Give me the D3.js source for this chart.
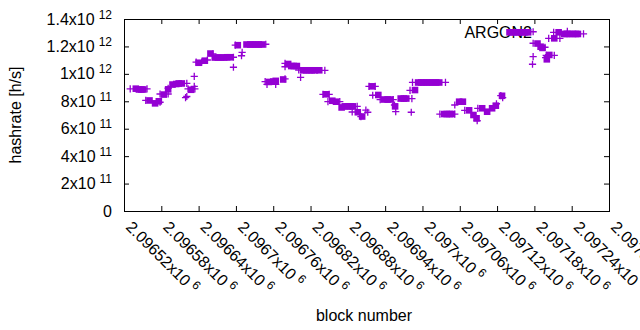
<!DOCTYPE html>
<html>
<head>
<meta charset="utf-8">
<script src="https://cdn.jsdelivr.net/npm/d3@7/dist/d3.min.js"></script>
<style>
body { margin: 0; background: #fff; }
text { font-family: "Liberation Sans", Arial, sans-serif; fill: #000; }
</style>
</head>
<body>
<svg id="chart" width="640" height="330"></svg>
<script>
// filled squares: block number and hashrate (in units of 1e11 h/s)
var squareBlocks = [2096539,2096544,2096548,2096551,2096561,2096570,2096576,2096584,2096591,2096598,
    2096604,2096608,2096613,2096628,2096640,2096650,2096659,2096666,2096671,2096676,
    2096681,2096686,2096690,2096703,2096717,2096723,2096727,2096732,2096737,2096742,
    2096753,2096760,2096764,2096776,2096784,2096789,2096793,2096798,2096808,2096813,
    2096818,2096822,2096827,2096834,2096845,2096855,2096861,2096870,2096875,2096880,
    2096885,2096888,2096896,2096903,2096919,2096929,2096938,2096944,2096948,2096956,
    2096965,2096970,2096974,2096988,2096993,2096998,2097002,2097007,2097012,2097017,
    2097022,2097027,2097035,2097039,2097044,2097047,2097059,2097065,2097075,2097082,
    2097087,2097096,2097104,2097112,2097118,2097128,2097140,2097146,2097150,2097155,
    2097160,2097165,2097170,2097185,2097190,2097193,2097200,2097204,2097212,2097219,
    2097228,2097232,2097237,2097242,2097247,2097250];
var squareRates = [8.92,8.86,8.86,8.86,8.06,7.85,8.00,8.49,8.87,9.22,
    9.26,9.30,9.30,8.84,10.81,10.96,11.48,11.19,11.19,11.19,
    11.19,11.21,11.21,12.09,12.14,12.14,12.14,12.14,12.14,12.14,
    9.41,9.44,9.49,9.59,10.72,10.57,10.57,10.57,10.26,10.26,
    10.26,10.26,10.26,10.26,8.51,8.04,7.97,7.55,7.63,7.63,
    7.63,7.63,7.20,6.89,9.09,8.46,8.13,8.13,8.13,7.63,
    8.20,8.20,8.20,8.82,9.37,9.37,9.37,9.37,9.37,9.37,
    9.37,9.37,7.07,7.07,7.07,7.07,7.97,7.97,7.34,7.00,
    6.76,7.49,7.24,7.49,7.68,8.40,13.03,13.03,13.03,13.03,
    13.03,13.03,13.03,12.21,11.98,11.89,11.06,11.38,12.59,13.03,
    12.91,12.91,12.91,12.91,12.91,12.91];

// plus marks: block number and hashrate (in units of 1e11 h/s)
var plusBlocks = [2096530,2096557,2096555,2096578,2096578,2096591,2096591,2096619,2096621,2096623,
    2096634,2096633,2096633,2096621,2096636,2096645,2096654,2096663,2096696,2096696,
    2096710,2096709,2096699,2096748,2096747,2096750,2096764,2096779,2096779,2096779,
    2096804,2096801,2096843,2096840,2096850,2096848,2096867,2096895,2096887,2096901,
    2096909,2096912,2096914,2096924,2096920,2096932,2096953,2096955,2096957,2096983,
    2096982,2096984,2096980,2097037,2097028,2097052,2097052,2097068,2097088,2097089,
    2097119,2097126,2097129,2097178,2097178,2097197,2097178,2097177,2097199,2097212,
    2097198,2097203,2097221,2097211,2097233,2097259];
var plusRates = [8.90,8.90,8.07,7.93,8.53,8.53,8.95,8.26,8.35,8.90,
    8.90,9.09,9.82,9.30,10.86,10.86,11.01,11.45,11.21,10.48,
    11.57,11.32,12.10,12.16,9.43,9.24,9.24,9.63,10.77,10.52,
    9.75,10.28,10.26,8.51,8.51,7.97,7.97,7.63,7.22,6.88,
    7.36,7.20,9.09,9.09,8.44,8.12,8.12,7.73,7.24,8.19,
    7.20,9.38,8.80,9.38,7.07,7.07,7.73,7.34,6.58,7.49,
    7.82,8.41,8.26,13.07,12.23,11.94,11.25,10.70,11.35,11.35,
    11.18,12.59,12.59,13.03,13.10,12.92];

var xTicks = [2096520,2096580,2096640,2096700,2096760,2096820,2096880,
    2096940,2097000,2097060,2097120,2097180,2097240,2097300];
var yTicks = [0,2e11,4e11,6e11,8e11,1e12,1.2e12,1.4e12];
var yTickMant = ["0","2","4","6","8","1","1.2","1.4"];
var yTickExp = ["","11","11","11","11","12","12","12"];

var color = "#9400d3";
var margin = {top: 19, right: 31, bottom: 119, left: 124};
var width = 640 - margin.left - margin.right;
var height = 330 - margin.top - margin.bottom;

var svg = d3.select("#chart");
var g = svg.append("g")
    .attr("transform", "translate(" + margin.left + "," + margin.top + ")");

var x = d3.scaleLinear().domain([2096520, 2097300]).range([0, width]);
var y = d3.scaleLinear().domain([0, 1.4e12]).range([height, 0]);

// key text sits under the points
g.append("text")
    .attr("x", 408).attr("y", 18.5)
    .attr("text-anchor", "end")
    .style("font-size", "16px")
    .text("ARGON2");

// ticks on all four sides, pointing inwards
g.append("g").attr("transform", "translate(0," + height + ")")
    .call(d3.axisBottom(x).tickValues(xTicks).tickSize(-5).tickFormat(""));
g.append("g")
    .call(d3.axisTop(x).tickValues(xTicks).tickSize(-5).tickFormat(""));
g.append("g")
    .call(d3.axisLeft(y).tickValues(yTicks).tickSize(-5).tickFormat(""));
g.append("g").attr("transform", "translate(" + width + ",0)")
    .call(d3.axisRight(y).tickValues(yTicks).tickSize(-5).tickFormat(""));
g.selectAll(".domain").remove();
g.selectAll(".tick line").attr("stroke", "#000").attr("stroke-width", 1);

g.append("rect")
    .attr("x", 0.5).attr("y", 0.5)
    .attr("width", width).attr("height", height)
    .attr("fill", "none").attr("stroke", "#000").attr("stroke-width", 1);

// y tick labels like 1.4x10^12
var yl = g.selectAll(".ylab").data(yTicks).enter().append("text")
    .attr("class", "ylab")
    .attr("x", -12)
    .attr("y", function(d) { return y(d) + 5.5; })
    .attr("text-anchor", "end")
    .style("font-size", "16px");
yl.append("tspan").text(function(d, i) { return yTickExp[i] ? yTickMant[i] + "x10" : yTickMant[i]; });
yl.filter(function(d, i) { return yTickExp[i]; })
    .append("tspan")
    .attr("dx", 4).attr("dy", -6)
    .style("font-size", "12px")
    .text(function(d, i) { return yTickExp[yTicks.indexOf(d)]; });

// rotated x tick labels like 2.09652x10^6
var xl = g.selectAll(".xlab").data(xTicks).enter().append("text")
    .attr("class", "xlab")
    .attr("transform", function(d) { return "translate(" + (x(d) + 1) + "," + (height + 17) + ") rotate(45)"; })
    .style("font-size", "16px");
xl.append("tspan").text(function(d) { return String(+(d / 1e6).toFixed(5)) + "x10"; });
xl.append("tspan").attr("dx", 4).attr("dy", -6).style("font-size", "12px").text("6");

// plus marks
var plusData = plusBlocks.map(function(b, i) { return {x: b, y: plusRates[i] * 1e11}; });
g.selectAll(".plus").data(plusData).enter().append("path")
    .attr("class", "plus")
    .attr("d", function(d) {
        var px = x(d.x), py = y(d.y), s = 3.6;
        return "M" + (px - s) + "," + py + "H" + (px + s) + "M" + px + "," + (py - s) + "V" + (py + s);
    })
    .attr("stroke", color).attr("stroke-width", 1.3).attr("fill", "none");

// filled squares
var sqData = squareBlocks.map(function(b, i) { return {x: b, y: squareRates[i] * 1e11}; });
g.selectAll(".sq").data(sqData).enter().append("rect")
    .attr("class", "sq")
    .attr("x", function(d) { return x(d.x) - 3.3; })
    .attr("y", function(d) { return y(d.y) - 3.3; })
    .attr("width", 6.6).attr("height", 6.6)
    .attr("fill", color);

// axis titles
svg.append("text")
    .attr("transform", "translate(21,115) rotate(-90)")
    .attr("text-anchor", "middle")
    .style("font-size", "16px")
    .text("hashrate [h/s]");
svg.append("text")
    .attr("x", 364).attr("y", 321)
    .attr("text-anchor", "middle")
    .style("font-size", "16px")
    .text("block number");
</script>
</body>
</html>
